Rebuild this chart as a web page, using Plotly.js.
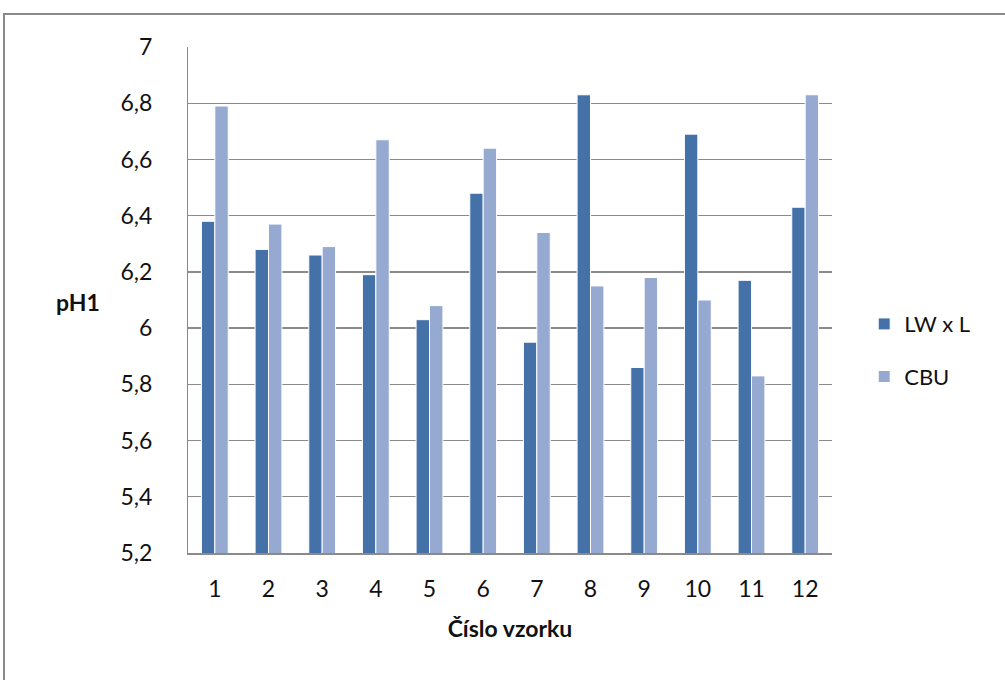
<!DOCTYPE html>
<html>
<head>
<meta charset="utf-8">
<script src="https://cdn.plot.ly/plotly-3.0.1.min.js"></script>
<style>
  html, body { margin: 0; padding: 0; background: #ffffff; overflow: hidden; }
  #frame {
    position: absolute; left: 3px; top: 13px;
    width: 1100px; height: 800px;
    border: 2px solid #8a8a8a; box-sizing: border-box;
  }
  #chart { position: absolute; left: 0; top: 0; width: 1005px; height: 680px; }
</style>
</head>
<body>
<div id="frame"></div>
<div id="chart"></div>
<script>
// Sample numbers along the x axis
const samples = ['1', '2', '3', '4', '5', '6', '7', '8', '9', '10', '11', '12'];

// pH1 measured for each sample
const lwxl = [6.38, 6.28, 6.26, 6.19, 6.03, 6.48, 5.95, 6.83, 5.86, 6.69, 6.17, 6.43];
const cbu  = [6.79, 6.37, 6.29, 6.67, 6.08, 6.64, 6.34, 6.15, 6.18, 6.10, 5.83, 6.83];

const seriesNames = ['LW x L', 'CBU'];
const seriesColors = ['#4472a8', '#95a9d1'];

const fontFamily = 'Lato, "Open Sans", "DejaVu Sans", sans-serif';

const traces = [lwxl, cbu].map((vals, i) => ({
  type: 'bar',
  name: seriesNames[i],
  x: samples,
  y: vals,
  legendgroup: 'g' + i,
  marker: { color: seriesColors[i], line: { color: '#ffffff', width: 1 } },
  hoverinfo: 'x+y+name'
}));

const layout = {
  width: 1005,
  height: 680,
  margin: { l: 188, r: 173, t: 47, b: 127 },
  paper_bgcolor: 'rgba(0,0,0,0)',
  plot_bgcolor: '#ffffff',
  separators: ', ',
  barmode: 'group',
  bargap: 0.5,
  bargroupgap: 0,
  font: { family: fontFamily, color: '#111111', size: 23 },
  xaxis: {
    type: 'category',
    showgrid: false,
    showline: true,
    linecolor: '#8a8a8a',
    linewidth: 2,
    ticks: '',
    ticklabelstandoff: 14,
    tickfont: { family: fontFamily, size: 23, color: '#111111' },
    title: {
      text: '<b>Číslo vzorku</b>',
      font: { family: fontFamily, size: 23, color: '#111111' },
      standoff: 20
    },
    fixedrange: true
  },
  yaxis: {
    range: [5.2, 7],
    dtick: 0.2,
    tick0: 5.2,
    showgrid: true,
    gridcolor: '#8a8a8a',
    gridwidth: 1.4,
    zeroline: false,
    showline: true,
    linecolor: '#8a8a8a',
    linewidth: 1,
    ticks: '',
    ticklabelstandoff: 30,
    tickfont: { family: fontFamily, size: 23, color: '#111111' },
    fixedrange: true
  },
  legend: {
    x: 1.05,
    xanchor: 'left',
    y: 0.40,
    yanchor: 'middle',
    traceorder: 'grouped',
    tracegroupgap: 21,
    font: { family: fontFamily, size: 22, color: '#111111' },
    bgcolor: 'rgba(0,0,0,0)'
  },
  annotations: [{
    text: '<b>pH1</b>',
    xref: 'paper', yref: 'paper',
    x: -0.171, y: 0.496,
    xanchor: 'center', yanchor: 'middle',
    showarrow: false,
    font: { family: fontFamily, size: 23, color: '#111111' }
  }]
};

Plotly.newPlot('chart', traces, layout, { displayModeBar: false, staticPlot: true });
</script>
</body>
</html>
